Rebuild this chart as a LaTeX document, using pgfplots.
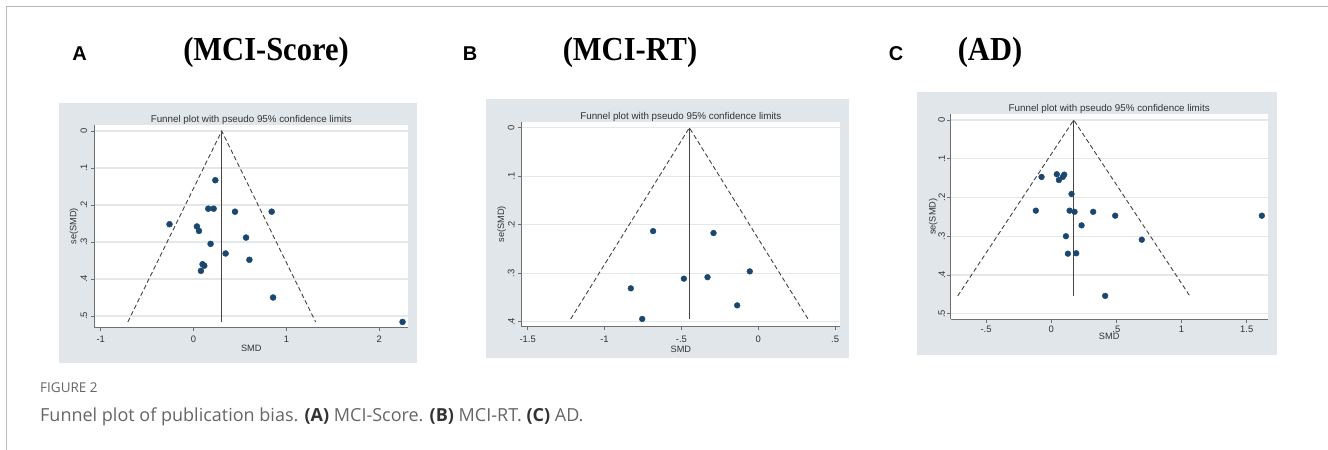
\documentclass[border=0pt]{standalone}
\usepackage{fontspec}
\setmainfont{Liberation Sans}
\newfontfamily\serifb{Liberation Serif}
\newfontfamily\capfont{Open Sans}
\usepackage{pgfplots}
\pgfplotsset{compat=1.18}
\definecolor{bgc}{HTML}{E0E6EA}
\definecolor{gridc}{HTML}{E3E8EB}
\definecolor{navy}{HTML}{1A476F}
\definecolor{axc}{HTML}{707070}
\definecolor{tickc}{HTML}{333333}
\definecolor{linec}{HTML}{444444}
\definecolor{framec}{HTML}{B8B8B8}
\definecolor{capc}{HTML}{666666}
\pgfplotsset{
 funnel/.style={
  scale only axis, clip=false, y dir=reverse,
  axis x line*=bottom, axis y line*=left,
  axis line style={axc, line width=0.9bp},
  axis background/.style={fill=white},
  ymajorgrids, grid style={gridc, line width=1.1bp},
  major tick length=3.5bp, tick align=outside, tick style={axc, line width=0.8bp},
  tick label style={font=\fontsize{9.4bp}{10bp}\selectfont, text=tickc},
  xticklabel style={anchor=north, inner sep=0pt},
  yticklabel style={rotate=90, anchor=south, inner sep=0pt},
  yticklabel shift=3.5bp,
  label style={font=\fontsize{9.2bp}{10bp}\selectfont, text=tickc},
  xlabel style={anchor=center},
  ylabel style={anchor=center},
  title={Funnel plot with pseudo 95\% confidence limits},
  title style={at={(axis description cs:0.5,1)}, anchor=base, yshift=-3.5bp, inner sep=0pt,
    font=\fontsize{9.8bp}{11bp}\selectfont, text=tickc},
 },
 fv/.style={linec, line width=1.3bp, no marks},
 fd/.style={linec, line width=0.9bp, dash pattern=on 4.5bp off 2.8bp, no marks},
 dots/.style={only marks, mark=*, mark size=3bp, mark options={fill=navy, draw=navy}},
}
\begin{document}
\begin{tikzpicture}
\useasboundingbox (0bp,0bp) rectangle (1328bp,-450bp);
\fill[white] (0bp,0bp) rectangle (1328bp,-450bp);
\draw[framec, line width=1.3bp] (6.7bp,-450bp) -- (6.7bp,-6.7bp) -- (1328bp,-6.7bp);
\fill[bgc] (58.7bp,-103.3bp) rectangle (417.3bp,-362.7bp);
\fill[bgc] (485.7bp,-99bp) rectangle (849.3bp,-358bp);
\fill[bgc] (916.7bp,-91.7bp) rectangle (1277.3bp,-355bp);
\node[font=\bfseries\fontsize{20bp}{22bp}\selectfont] at (79.5bp,-54bp) {A};
\node[font=\bfseries\fontsize{20bp}{22bp}\selectfont] at (470bp,-54bp) {B};
\node[font=\bfseries\fontsize{20bp}{22bp}\selectfont] at (896bp,-54bp) {C};
\node[font=\serifb\bfseries\fontsize{30.5bp}{32bp}\selectfont, yscale=1.1] at (266bp,-52bp) {(MCI-Score)};
\node[font=\serifb\bfseries\fontsize{30.5bp}{32bp}\selectfont, yscale=1.1] at (630bp,-52bp) {(MCI-RT)};
\node[font=\serifb\bfseries\fontsize{30.5bp}{32bp}\selectfont, yscale=1.1] at (990bp,-52bp) {(AD)};
\node[anchor=base west, inner sep=0pt, text=capc, font=\capfont\fontsize{13.5bp}{15bp}\selectfont] at (40bp,-392bp) {FIGURE 2};
\node[anchor=base west, inner sep=0pt, text=capc, font=\capfont\fontsize{18bp}{20bp}\selectfont] at (40bp,-421.5bp) {Funnel plot of publication bias. {\bfseries\color{tickc}(A)} MCI-Score. {\bfseries\color{tickc}(B)} MCI-RT. {\bfseries\color{tickc}(C)} AD.};

% Panel A
\begin{axis}[funnel, at={(251.3bp,-226.35bp)}, anchor=center, width=314bp, height=202.7bp,
 xmin=-1.069, xmax=2.312, ymin=-0.0162, ymax=0.5316,
 xtick={-1,0,1,2}, xticklabels={-1,0,1,2}, xticklabel shift=5bp,
 ytick={0,0.1,0.2,0.3,0.4,0.5}, yticklabels={0,.1,.2,.3,.4,.5},
 xlabel={SMD}, ylabel={se(SMD)},
 xlabel style={at={(axis description cs:0.5,-0.100)}},
 ylabel style={at={(axis description cs:-0.0646,0.5)}}]
\addplot[fv] coordinates {(0.303,0) (0.303,0.516)};
\addplot[fd] coordinates {(-0.708,0.516) (0.303,0) (1.314,0.516)};
\addplot[dots] coordinates {
(0.234,0.133) (0.158,0.210) (0.216,0.210) (0.446,0.218) (0.841,0.218)
(-0.259,0.252) (0.036,0.258) (0.058,0.270) (0.565,0.288) (0.183,0.305)
(0.345,0.331) (0.601,0.348) (0.097,0.360) (0.115,0.364) (0.079,0.378)
(0.856,0.450) (2.250,0.516)};
\end{axis}

% Panel B
\begin{axis}[funnel, at={(680.85bp,-224.2bp)}, anchor=center, width=318.3bp, height=205bp,
 xmin=-1.539, xmax=0.532, ymin=-0.0124, ymax=0.410,
 xtick={-1.5,-1,-0.5,0,0.5}, xticklabels={-1.5,-1,-.5,0,.5}, xticklabel shift=6bp,
 ytick={0,0.1,0.2,0.3,0.4}, yticklabels={0,.1,.2,.3,.4},
 xlabel={SMD}, ylabel={se(SMD)},
 xlabel style={at={(axis description cs:0.5,-0.112)}},
 ylabel style={at={(axis description cs:-0.0628,0.5)}}]
\addplot[fv] coordinates {(-0.448,0) (-0.448,0.394)};
\addplot[fd] coordinates {(-1.220,0.394) (-0.448,0) (0.324,0.394)};
\addplot[dots, mark size=2.9bp] coordinates {
(-0.684,0.213) (-0.291,0.217) (-0.055,0.296) (-0.484,0.311)
(-0.330,0.308) (-0.829,0.331) (-0.137,0.366) (-0.755,0.394)};
\end{axis}

% Panel C
\begin{axis}[funnel, at={(1109.2bp,-216.65bp)}, anchor=center, width=317bp, height=204.7bp,
 xmin=-0.771, xmax=1.661, ymin=-0.0147, ymax=0.5137,
 xtick={-0.5,0,0.5,1,1.5}, xticklabels={-.5,0,.5,1,1.5}, xticklabel shift=3bp,
 ytick={0,0.1,0.2,0.3,0.4,0.5}, yticklabels={0,.1,.2,.3,.4,.5}, yticklabel shift=2bp,
 xlabel={SMD}, ylabel={se(SMD)},
 xlabel style={at={(axis description cs:0.5,-0.086)}},
 ylabel style={at={(axis description cs:-0.0549,0.5)}}]
\addplot[fv] coordinates {(0.173,0) (0.173,0.454)};
\addplot[fd] coordinates {(-0.717,0.454) (0.173,0) (1.063,0.454)};
\addplot[dots, mark size=2.9bp] coordinates {
(-0.074,0.147) (0.043,0.140) (0.059,0.155) (0.089,0.147) (0.100,0.141)
(0.156,0.191) (-0.118,0.234) (0.141,0.234) (0.179,0.237) (0.322,0.237)
(0.491,0.247) (1.616,0.247) (0.233,0.272) (0.113,0.300) (0.695,0.309)
(0.128,0.345) (0.192,0.344) (0.414,0.454)};
\end{axis}
\end{tikzpicture}
\end{document}
